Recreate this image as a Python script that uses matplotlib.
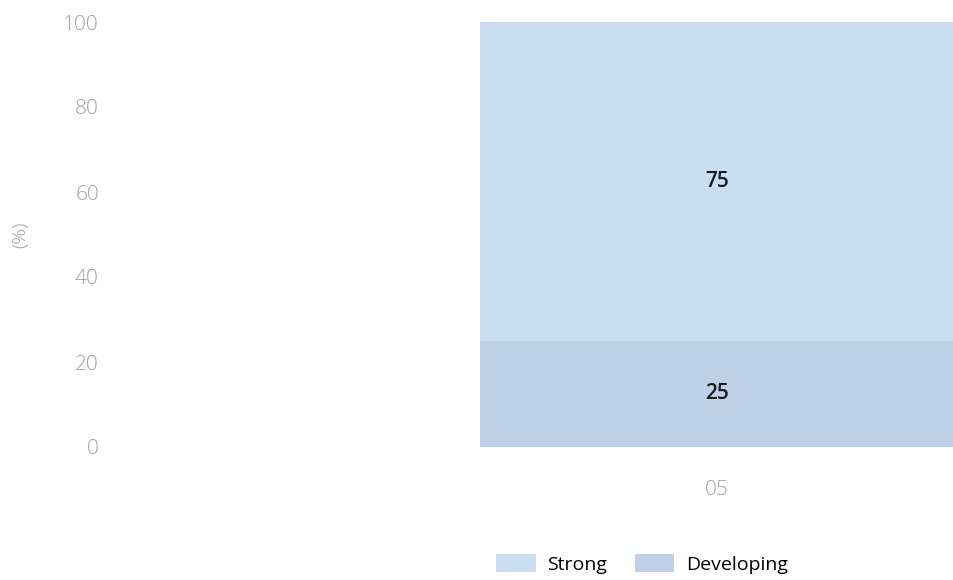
import matplotlib.pyplot as plt
import numpy as np

plt.rcParams['font.family'] = ['Open Sans', 'DejaVu Sans']

categories = ['05']
strong = [75]
developing = [25]
series_names = ['Strong', 'Developing']
colors = ['#c9def1', '#bdd0e8']

fig = plt.figure(figsize=(9.54, 5.8), dpi=100)
ax = fig.add_axes([110 / 954, 133 / 580, 844 / 954, 425 / 580])

x = np.arange(len(categories))
b1 = ax.bar(x, developing, width=1.0, color=colors[1], label=series_names[1])
b2 = ax.bar(x, strong, width=1.0, bottom=developing, color=colors[0], label=series_names[0])

for bars, vals, bottoms in [(b1, developing, [0] * len(x)), (b2, strong, developing)]:
    for rect, v, b in zip(bars, vals, bottoms):
        ax.text(rect.get_x() + rect.get_width() / 2, b + v / 2, str(v),
                ha='center', va='center', fontsize=15, fontweight='semibold',
                color='#1a1a1a')

ax.set_xlim(-1.2806, 0.5)
ax.set_ylim(0, 100)
ax.set_yticks(range(0, 101, 20))
ax.set_xticks(x)
ax.set_xticklabels(categories)
ax.tick_params(axis='both', length=0, colors='#a0a0a0', labelsize=15)
for lab in ax.get_xticklabels() + ax.get_yticklabels():
    lab.set_fontweight('light')
ax.tick_params(axis='y', pad=8)
ax.tick_params(axis='x', pad=24)
for s in ax.spines.values():
    s.set_visible(False)
ax.set_ylabel('(%)', color='#a0a0a0', fontsize=14, fontweight='light')
ax.yaxis.set_label_coords(-0.096, 0.5)

handles = [b2, b1]
fig.legend(handles, series_names, loc='center', bbox_to_anchor=(642 / 954, 1 - 564 / 580),
           ncol=2, frameon=False, fontsize=14, handlelength=2.05, handleheight=1.0,
           columnspacing=1.4, handletextpad=0.6)

fig.savefig('out.png', dpi=100)
